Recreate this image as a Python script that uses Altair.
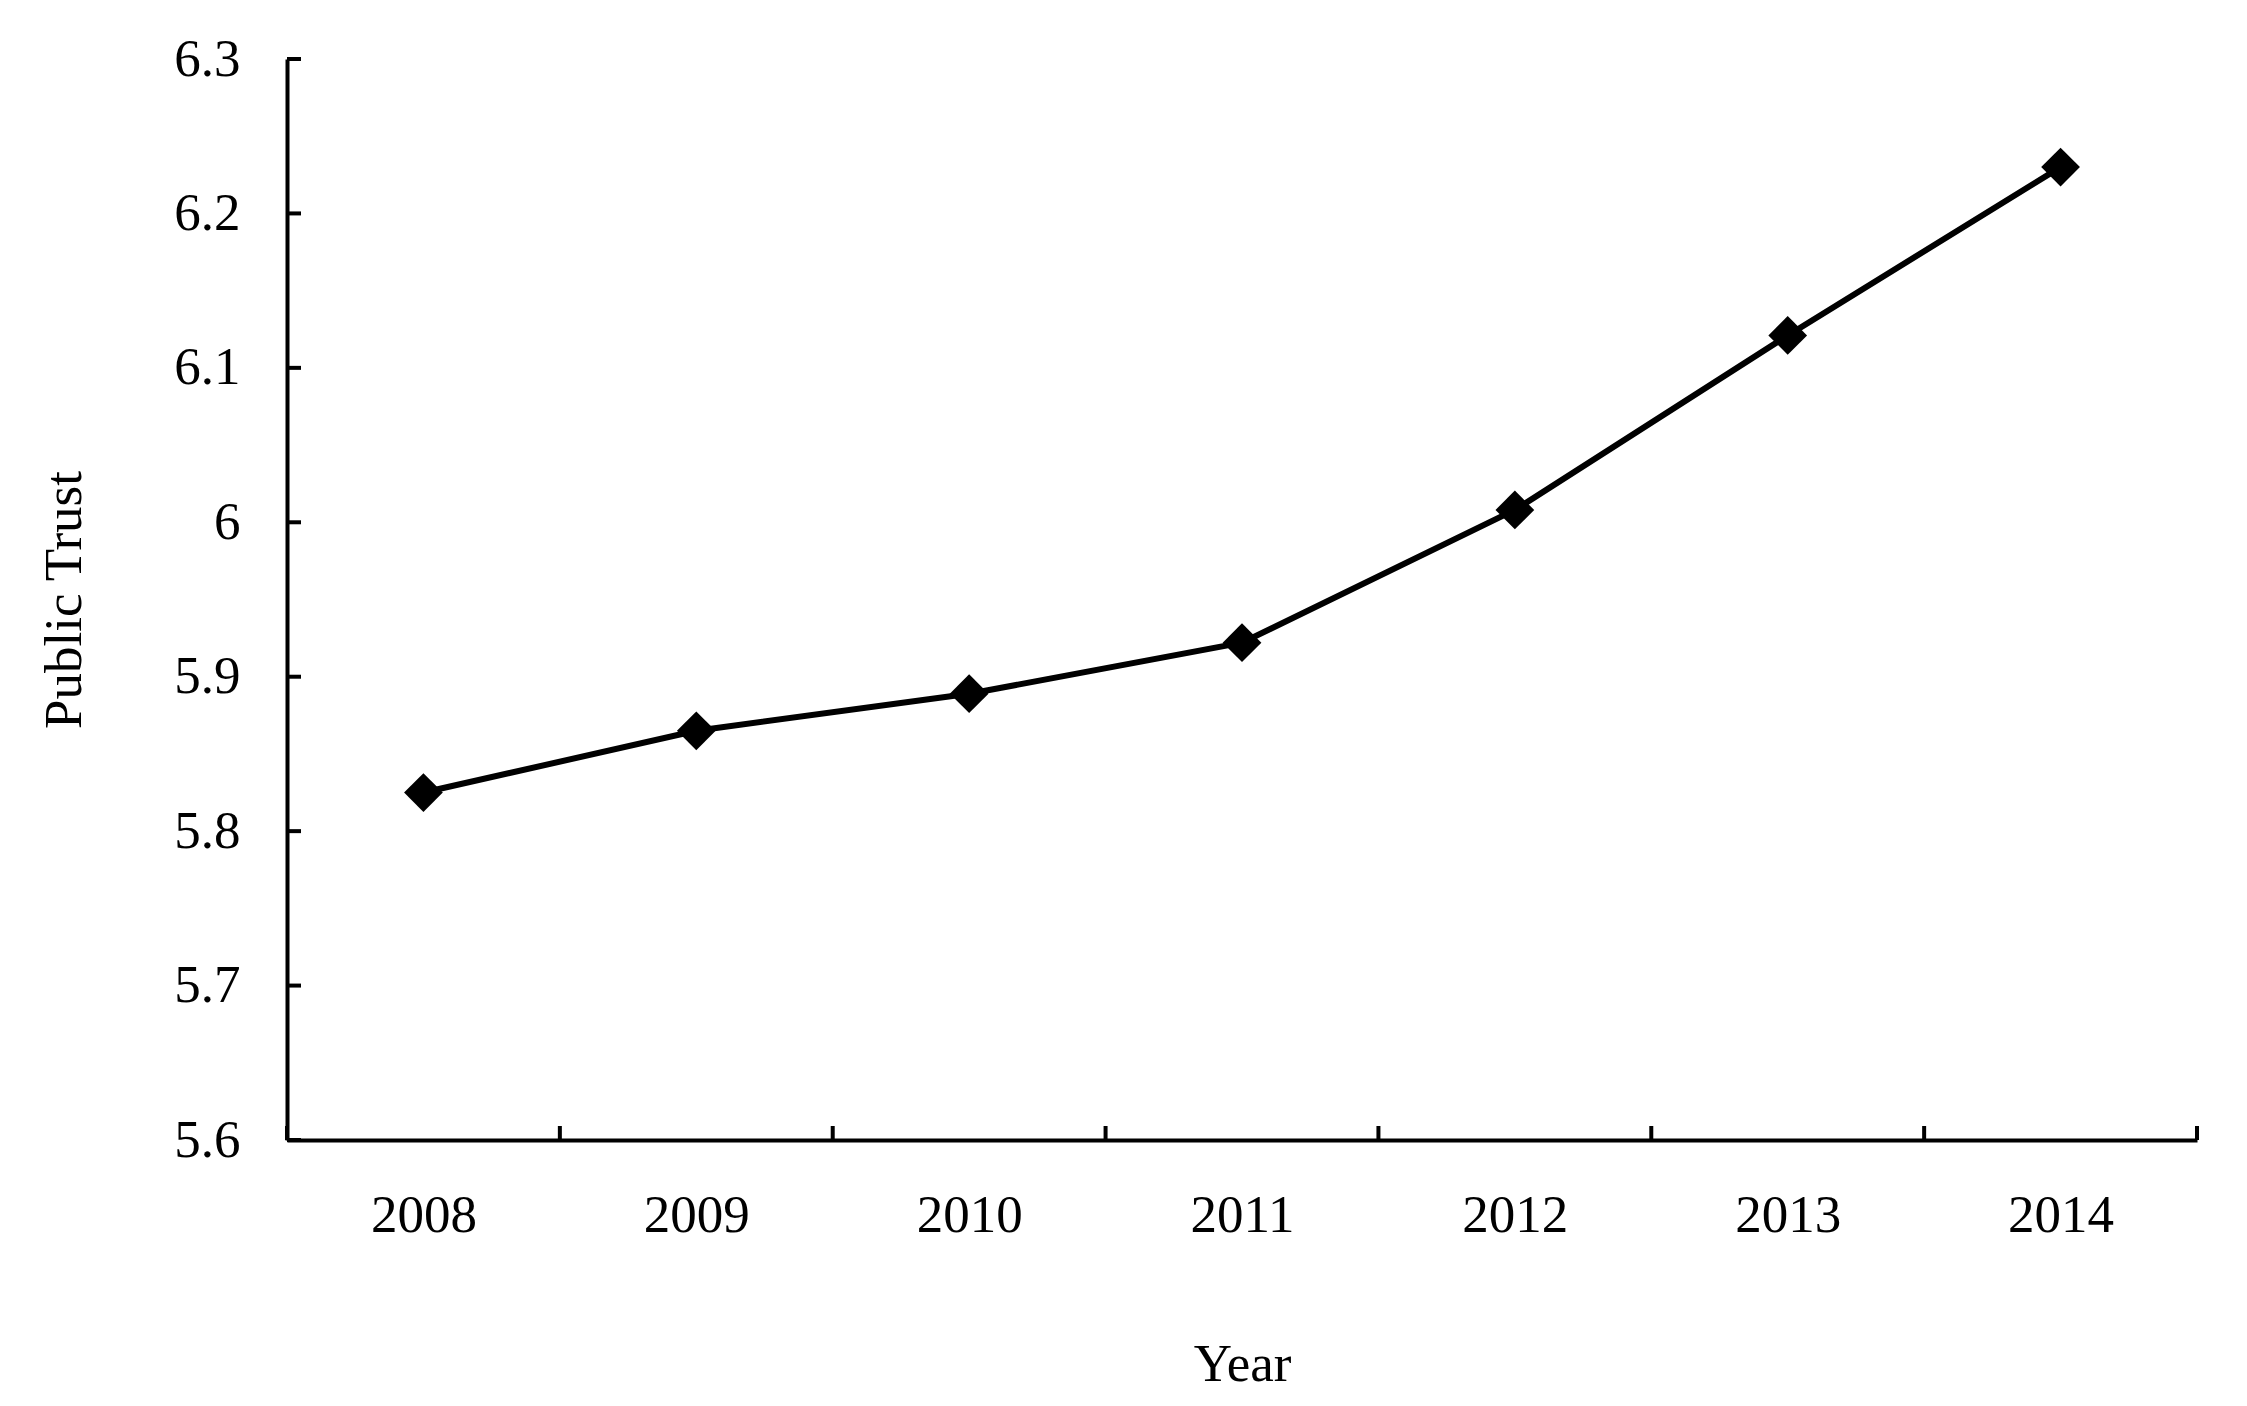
import altair as alt
import pandas as pd

years = [2008, 2009, 2010, 2011, 2012, 2013, 2014]
trust = [5.825, 5.865, 5.889, 5.922, 6.008, 6.121, 6.230]
y_ticks = [5.6, 5.7, 5.8, 5.9, 6.0, 6.1, 6.2, 6.3]
x_bounds = [y - 0.5 for y in years] + [years[-1] + 0.5]

FONT = "Liberation Serif"
W, H = 1910, 1081

df = pd.DataFrame({"Year": years, "Trust": trust})
df_yt = pd.DataFrame({"Trust": y_ticks})
df_xt = pd.DataFrame({"Year": x_bounds})

xscale = alt.Scale(domain=[2007.5, 2014.5], nice=False, zero=False)
yscale = alt.Scale(domain=[5.6, 6.3], nice=False, zero=False)

xaxis = alt.Axis(values=years, format="d", ticks=False, tickSize=0, grid=False,
                 domainColor="black", domainWidth=4,
                 labelFont=FONT, labelFontSize=53, labelColor="black",
                 labelPadding=49, labelFlush=False, labelOverlap=False,
                 title="Year", titleFont=FONT, titleFontSize=53, titleFontWeight="normal",
                 titleColor="black", titleX=W / 2, titleY=240, titleAlign="center",
                 titleBaseline="alphabetic")
yaxis = alt.Axis(values=y_ticks, format="~g", ticks=False, tickSize=0, grid=False,
                 domainColor="black", domainWidth=4,
                 labelFont=FONT, labelFontSize=53, labelColor="black",
                 labelPadding=47, labelFlush=False, labelOverlap=False,
                 title="Public Trust", titleFont=FONT, titleFontSize=53,
                 titleFontWeight="normal", titleColor="black", titleAngle=270,
                 titleX=-207, titleY=H / 2, titleAlign="center",
                 titleBaseline="alphabetic")

base = alt.Chart(df).encode(
    x=alt.X("Year:Q", scale=xscale, axis=xaxis),
    y=alt.Y("Trust:Q", scale=yscale, axis=yaxis),
)
line = base.mark_line(color="black", strokeWidth=6)
pts = base.mark_point(shape="diamond", filled=True, size=1500, color="black", opacity=1)

yt = alt.Chart(df_yt).mark_rule(color="black", strokeWidth=4, strokeCap="butt").encode(
    y=alt.Y("Trust:Q", scale=yscale, axis=yaxis),
    x=alt.value(0), x2=alt.value(14),
)
xt = alt.Chart(df_xt).mark_rule(color="black", strokeWidth=4, strokeCap="butt").encode(
    x=alt.X("Year:Q", scale=xscale, axis=xaxis),
    y=alt.value(H - 14), y2=alt.value(H),
)

chart = alt.layer(line, pts, yt, xt).properties(
    width=W, height=H,
    autosize=alt.AutoSizeParams(type="none"),
    padding={"left": 279, "top": 51, "right": 40, "bottom": 250},
    background="white",
).configure_view(stroke=None)

chart.save("out.html", embed_options={"renderer": "svg", "actions": False})
